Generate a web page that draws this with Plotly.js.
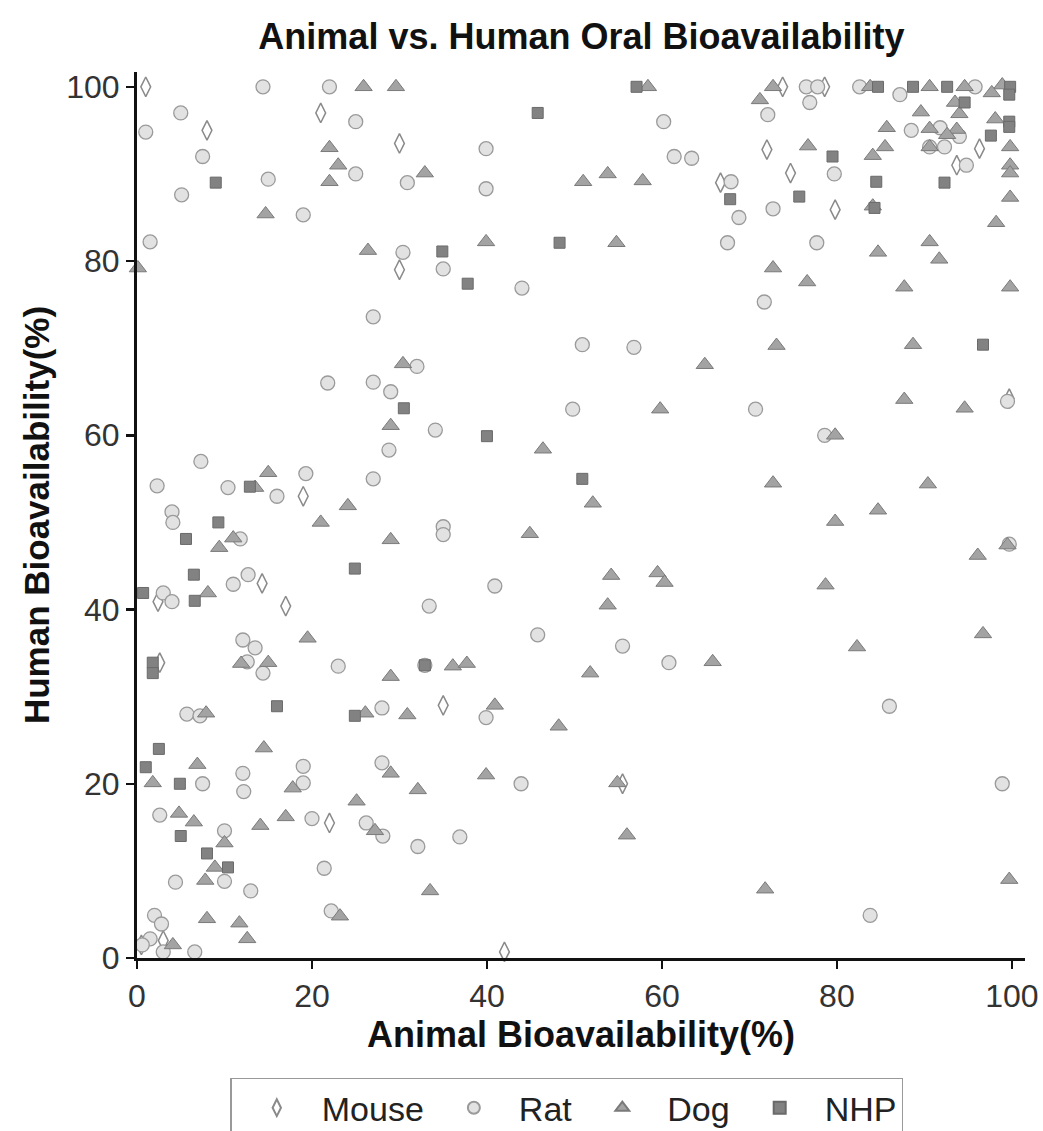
<!DOCTYPE html>
<html>
<head>
<meta charset="utf-8">
<script src="https://cdn.plot.ly/plotly-3.0.1.min.js"></script>
<style>html,body{margin:0;padding:0;background:#fff;}#chart{width:1043px;height:1131px;}</style>
</head>
<body>
<div id="chart"></div>
<script>
const seriesNames = ["Mouse", "Rat", "Dog", "NHP"];

const mouseX = [1, 8, 21, 30, 30, 73.8, 78.6, 72, 74.7, 79.8, 66.7, 93.7, 96.3, 19, 14.3, 17, 2.4, 2.6, 22, 3, 35, 42, 55.5, 0.5, 99.7];
const mouseY = [100, 95, 97, 93.5, 79, 100, 100, 92.8, 90.1, 85.9, 89, 91, 92.9, 53, 43, 40.4, 40.9, 33.9, 15.5, 2, 29, 0.7, 20, 1.5, 64.2];

const ratX = [14.4, 22, 5, 1, 25, 7.5, 15, 25, 30.9, 5.1, 19, 1.5, 30.4, 27,
  60.2, 39.9, 39.9, 61.4, 63.4, 35, 44, 50.9, 56.8,
  76.5, 77.8, 82.6, 87.2, 95.8, 76.9, 72.1, 88.5, 91.8, 94, 92.3, 90.6, 67.9, 94.8, 79.7, 68.8, 72.7, 67.5, 77.7, 71.7,
  21.8, 27, 29, 32, 28.8, 27, 7.3, 2.3, 10.4, 16, 19.3, 4, 4.1, 11.8, 3, 4, 11, 12.7, 12.1, 13.5,
  49.8, 34.1, 35, 35, 40.9, 33.4, 45.8, 55.5,
  70.7, 78.6, 99.5, 99.7,
  23, 12.6, 14.4, 5.7, 7.2, 28, 19, 28, 12.1, 7.5, 19, 12.2, 2.6, 20, 10, 26.2, 28.1, 32.1, 10, 4.4, 13, 21.4, 22.2, 2, 2.8, 1.5, 0.6, 3, 6.6,
  60.8, 39.9, 43.9, 36.9, 32.9,
  86, 98.9, 83.8];
const ratY = [100, 100, 97, 94.8, 96, 92, 89.4, 90, 89, 87.6, 85.3, 82.2, 81, 73.6,
  96, 92.9, 88.3, 92, 91.8, 79.1, 76.9, 70.4, 70.1,
  100, 100, 100, 99.1, 100, 98.2, 96.8, 95, 95.3, 94.3, 93.1, 93.1, 89.1, 91, 90, 85, 86, 82.1, 82.1, 75.3,
  66, 66.1, 65, 67.9, 58.3, 55, 57, 54.2, 54, 53, 55.6, 51.2, 50, 48.1, 41.9, 40.9, 42.9, 44, 36.5, 35.6,
  63, 60.6, 49.5, 48.6, 42.7, 40.4, 37.1, 35.8,
  63, 60, 63.9, 47.5,
  33.5, 34, 32.7, 28, 27.8, 28.7, 22, 22.4, 21.2, 20, 20.1, 19.1, 16.4, 16, 14.6, 15.5, 14, 12.8, 8.8, 8.7, 7.7, 10.3, 5.4, 4.9, 3.9, 2.2, 1.5, 0.7, 0.7,
  33.9, 27.6, 20, 13.9, 33.6,
  28.9, 20, 4.9];

const dogX = [25.9, 29.6, 22, 23, 22, 14.7, 26.4, 0.1, 32.9,
  58.4, 51, 53.8, 57.8, 39.9, 54.8,
  72.7, 71.2, 83.8, 90.6, 94.6, 98.9, 97.7, 93.5, 89.6, 94, 98.1, 85.7, 90.6, 93.7, 92.6, 85.5, 90.6, 84.1, 76.7, 99.8, 99.8, 99.8, 99.8, 98.2, 90.6, 91.7, 84.7, 72.7, 76.6, 87.7, 99.8, 73.1, 88.7, 84.1,
  30.4, 29, 15, 13.5, 24.1, 21, 29, 11, 9.4, 8.1, 19.5,
  59.8, 46.4, 52.1, 44.9, 54.2, 59.5, 60.3, 53.8,
  64.9, 87.7, 94.6, 79.8, 72.7, 90.4, 84.7, 79.8, 96.1, 99.5, 78.7, 96.7, 82.3,
  11.9, 15, 29, 7.9, 26.1, 30.9, 14.5, 6.9, 1.8, 29, 17.8, 32.1, 25.1, 4.8, 17, 6.5, 14.1, 27.2, 10, 8.9, 7.8, 8, 11.7, 23.2, 12.6, 4.1,
  36.1, 37.7, 51.8, 40.9, 48.2, 39.9, 54.9, 56, 33.5,
  65.8, 71.8, 99.7];
const dogY = [100, 100, 93, 91, 89.1, 85.4, 81.2, 79.2, 90.1,
  100, 89.1, 90, 89.2, 82.2, 82.1,
  100, 98.5, 100, 100, 100, 100.2, 99.3, 98.2, 97.1, 96.9, 96.3, 95.3, 95.2, 95.1, 94.5, 93.1, 93.1, 92.1, 93.2, 93.1, 91, 90.1, 87.3, 84.4, 82.2, 80.2, 81, 79.2, 77.6, 77, 77, 70.3, 70.4, 86.3,
  68.2, 61.1, 55.7, 54, 51.9, 50, 48, 48.2, 47.1, 41.9, 36.7,
  63, 58.4, 52.2, 48.7, 43.9, 44.2, 43.1, 40.5,
  68.1, 64.1, 63.1, 60, 54.5, 54.4, 51.4, 50.1, 46.2, 47.4, 42.8, 37.2, 35.7,
  33.8, 33.9, 32.3, 28.1, 28.1, 27.9, 24.1, 22.2, 20.1, 21.2, 19.5, 19.3, 18, 16.6, 16.2, 15.6, 15.2, 14.6, 13.2, 10.4, 8.9, 4.5, 4, 4.8, 2.2, 1.5,
  33.5, 33.8, 32.7, 29, 26.6, 21, 20.1, 14.1, 7.7,
  34, 7.9, 9];

const nhpX = [9, 57.1, 45.8, 34.9, 48.3, 37.8,
  84.7, 88.7, 92.6, 99.8, 99.7, 94.6, 99.7, 99.7, 97.6, 67.8, 79.5, 92.3, 75.7, 84.5, 84.3, 96.7,
  30.5, 12.9, 9.3, 5.6, 6.5, 6.6, 24.9, 0.7,
  40, 50.9,
  1.8, 1.8, 16, 24.9, 2.5, 1, 4.9, 5, 8, 10.4, 32.9];
const nhpY = [89, 100, 97, 81.1, 82.1, 77.4,
  100, 100, 100, 100, 99.1, 98.2, 96, 95.4, 94.4, 87.1, 92, 89, 87.4, 89.1, 86.1, 70.4,
  63.1, 54.1, 50, 48.1, 44, 41, 44.7, 41.9,
  59.9, 55,
  33.9, 32.7, 28.9, 27.8, 24, 21.9, 20, 14, 12, 10.4, 33.6];

const xTicks = [0, 20, 40, 60, 80, 100];
const yTicks = [0, 20, 40, 60, 80, 100];

const traces = [
  {x: mouseX, y: mouseY, name: seriesNames[0], type: 'scatter', mode: 'markers', cliponaxis: false,
   marker: {symbol: 'diamond-tall', size: 14, color: '#ffffff', line: {color: '#8a8a8a', width: 1.5}}},
  {x: ratX, y: ratY, name: seriesNames[1], type: 'scatter', mode: 'markers', cliponaxis: false,
   marker: {symbol: 'circle', size: 14, color: '#e2e2e2', line: {color: '#9a9a9a', width: 1.3}}},
  {x: dogX, y: dogY, name: seriesNames[2], type: 'scatter', mode: 'markers', cliponaxis: false,
   marker: {symbol: 'triangle-up', size: 15, color: '#a3a3a3', line: {color: '#7a7a7a', width: 1}}},
  {x: nhpX, y: nhpY, name: seriesNames[3], type: 'scatter', mode: 'markers', cliponaxis: false,
   marker: {symbol: 'square', size: 11, color: '#828282', line: {color: '#6a6a6a', width: 1}}}
];

const layout = {
  width: 1043, height: 1131,
  paper_bgcolor: '#ffffff', plot_bgcolor: '#ffffff',
  margin: {l: 137, r: 18, t: 72, b: 173, autoexpand: false},
  font: {family: 'Liberation Sans, Arial, sans-serif', color: '#222'},
  title: {text: '<b>Animal vs. Human Oral Bioavailability</b>', x: 0.5575, xanchor: 'center', y: 0.968, yanchor: 'middle',
          font: {size: 36, color: '#111'}},
  xaxis: {range: [0, 101.5], tickvals: xTicks, ticktext: xTicks.map(String), showgrid: false, zeroline: false,
          showline: true, linecolor: '#111', linewidth: 3, ticks: 'outside', ticklen: 8, tickwidth: 2.5, tickcolor: '#111',
          tickfont: {size: 32, color: '#333'},
          title: {text: '<b>Animal Bioavailability(%)</b>', font: {size: 36, color: '#111'}, standoff: 8}},
  yaxis: {range: [0, 101.7], tickvals: yTicks, ticktext: yTicks.map(String), showgrid: false, zeroline: false,
          showline: true, linecolor: '#111', linewidth: 3, ticks: 'outside', ticklen: 8, tickwidth: 2.5, tickcolor: '#111',
          tickfont: {size: 32, color: '#333'},
          title: {text: '<b>Human Bioavailability(%)</b>', font: {size: 35, color: '#111'}, standoff: 6}},
  showlegend: true,
  legend: {orientation: 'h', x: 0.484, xanchor: 'center', y: -0.135, yanchor: 'top',
           bordercolor: '#999', borderwidth: 1.5, bgcolor: '#ffffff',
           font: {size: 34, color: '#222'}, itemsizing: 'constant', itemwidth: 80,
           tracegroupgap: 0}
};

Plotly.newPlot('chart', traces, layout, {displayModeBar: false, staticPlot: true});
</script>
</body>
</html>
